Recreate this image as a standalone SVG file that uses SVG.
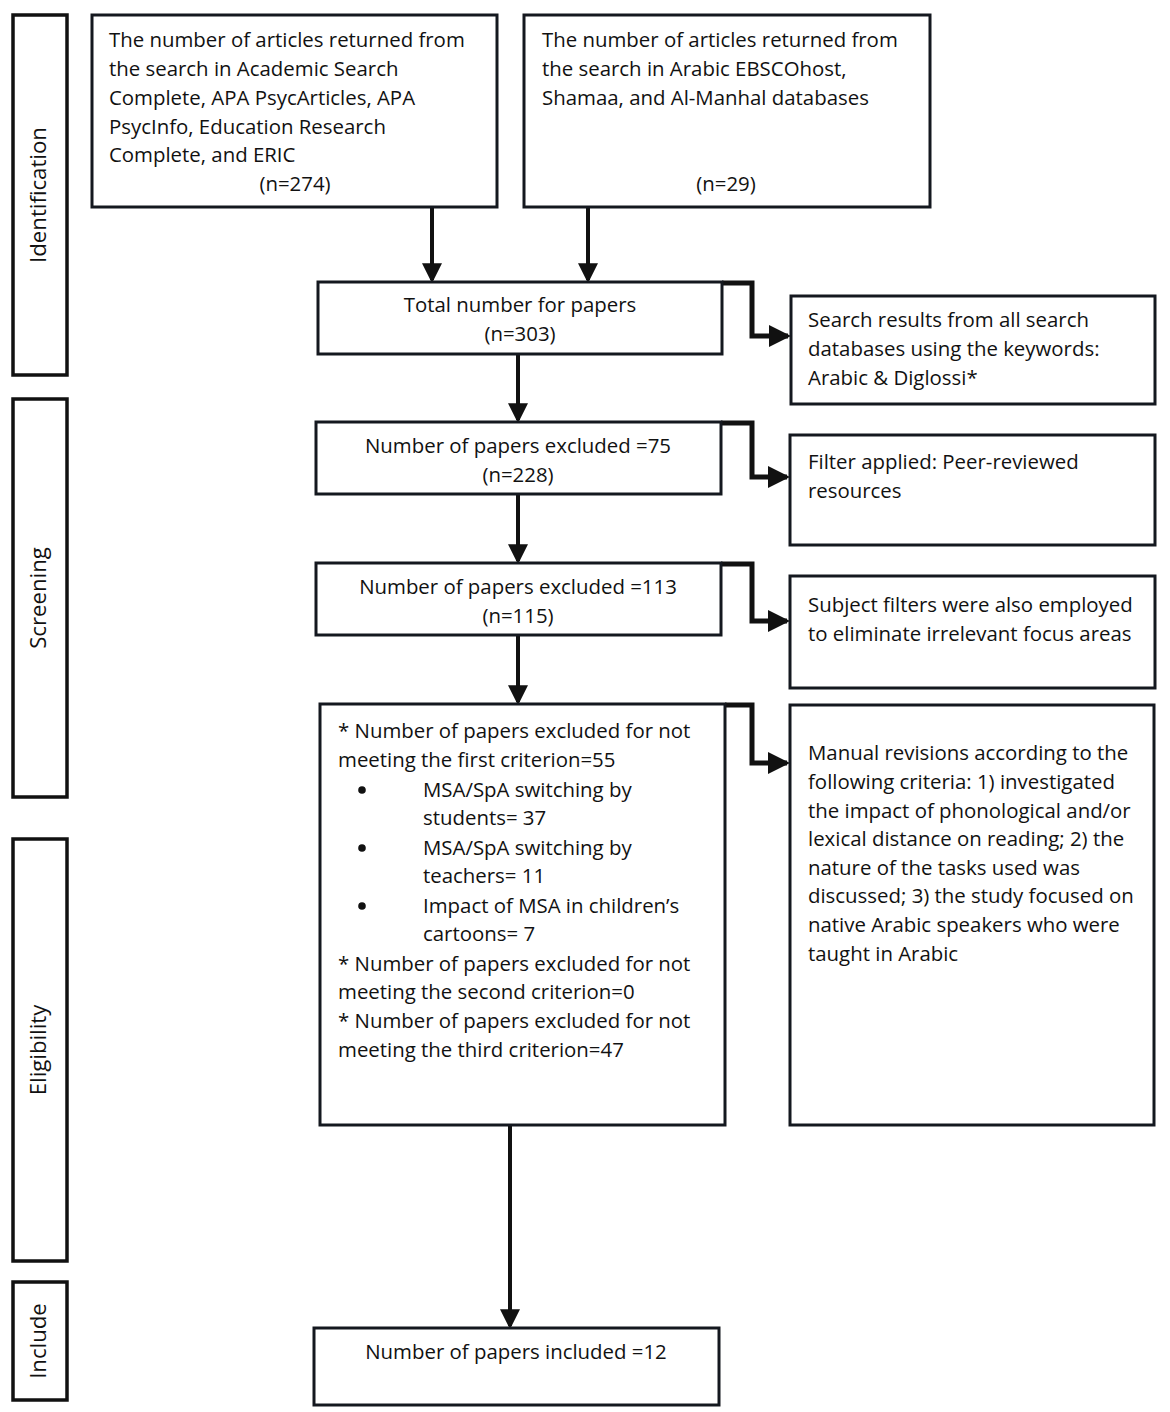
<svg xmlns="http://www.w3.org/2000/svg" width="1170" height="1412" viewBox="0 0 1170 1412">
<style>
.box{fill:#fff;stroke:#14181f;stroke-width:3}
.lbl{fill:#fff;stroke:#111;stroke-width:3.5}
.t{font-family:"Open Sans","Noto Sans",sans-serif;font-size:20.4px;fill:#111}
.s{font-size:22.2px}
.c{text-anchor:middle}
.con{fill:none;stroke:#111;stroke-width:4}
.side{fill:none;stroke:#111;stroke-width:5;stroke-linejoin:miter}
</style>
<defs>
<marker id="ah" markerWidth="5" markerHeight="5" refX="4.2" refY="2.5" orient="auto" markerUnits="strokeWidth">
<path d="M0,0 L5,2.5 L0,5 Z" fill="#111"/>
</marker>
<marker id="ahs" markerWidth="4.4" markerHeight="4.4" refX="3.8" refY="2.2" orient="auto" markerUnits="strokeWidth">
<path d="M0,0 L4.4,2.2 L0,4.4 Z" fill="#111"/>
</marker>
</defs>
<rect width="1170" height="1412" fill="#fff"/>

<g id="phase-identification">
<rect class="lbl" x="13" y="15" width="54" height="360"/>
<text class="t s c" transform="translate(46,195) rotate(-90)">Identification</text>
</g>
<g id="phase-screening">
<rect class="lbl" x="13" y="399" width="54" height="398"/>
<text class="t s c" transform="translate(46,598) rotate(-90)">Screening</text>
</g>
<g id="phase-eligibility">
<rect class="lbl" x="13" y="839" width="54" height="422"/>
<text class="t s c" transform="translate(46,1050) rotate(-90)">Eligibility</text>
</g>
<g id="phase-include">
<rect class="lbl" x="13" y="1282" width="54" height="118"/>
<text class="t s c" transform="translate(46,1341) rotate(-90)">Include</text>
</g>

<g id="connectors">
<line class="con" x1="432" y1="207" x2="432" y2="280" marker-end="url(#ah)"/>
<line class="con" x1="588" y1="207" x2="588" y2="280" marker-end="url(#ah)"/>
<line class="con" x1="518" y1="354" x2="518" y2="420" marker-end="url(#ah)"/>
<line class="con" x1="518" y1="494" x2="518" y2="561" marker-end="url(#ah)"/>
<line class="con" x1="518" y1="635" x2="518" y2="702" marker-end="url(#ah)"/>
<line class="con" x1="510" y1="1125" x2="510" y2="1326" marker-end="url(#ah)"/>
<polyline class="side" points="722,283 752,283 752,336 788,336" marker-end="url(#ahs)"/>
<polyline class="side" points="721,423 752,423 752,477 787,477" marker-end="url(#ahs)"/>
<polyline class="side" points="721,564 752,564 752,621 787,621" marker-end="url(#ahs)"/>
<polyline class="side" points="725,705 752,705 752,763 787,763" marker-end="url(#ahs)"/>
</g>

<g id="n-academic">
<rect class="box" x="92" y="15" width="405" height="192"/>
<text class="t" x="109" y="47">The number of articles returned from</text>
<text class="t" x="109" y="76">the search in Academic Search</text>
<text class="t" x="109" y="105">Complete, APA PsycArticles, APA</text>
<text class="t" x="109" y="134">PsycInfo, Education Research</text>
<text class="t" x="109" y="162">Complete, and ERIC</text>
<text class="t c" x="295" y="191">(n=274)</text>
</g>
<g id="n-arabic">
<rect class="box" x="524" y="15" width="406" height="192"/>
<text class="t" x="542" y="47">The number of articles returned from</text>
<text class="t" x="542" y="76">the search in Arabic EBSCOhost,</text>
<text class="t" x="542" y="105">Shamaa, and Al-Manhal databases</text>
<text class="t c" x="726" y="191">(n=29)</text>
</g>
<g id="n-total">
<rect class="box" x="318" y="282" width="404" height="72"/>
<text class="t c" x="520" y="312">Total number for papers</text>
<text class="t c" x="520" y="341">(n=303)</text>
</g>
<g id="n-search-note">
<rect class="box" x="791" y="296" width="364" height="108"/>
<text class="t" x="808" y="327">Search results from all search</text>
<text class="t" x="808" y="356">databases using the keywords:</text>
<text class="t" x="808" y="385">Arabic &amp; Diglossi*</text>
</g>
<g id="n-excl75">
<rect class="box" x="316" y="422" width="405" height="72"/>
<text class="t c" x="518" y="453">Number of papers excluded =75</text>
<text class="t c" x="518" y="482">(n=228)</text>
</g>
<g id="n-peer-note">
<rect class="box" x="790" y="435" width="365" height="110"/>
<text class="t" x="808" y="469">Filter applied: Peer-reviewed</text>
<text class="t" x="808" y="498">resources</text>
</g>
<g id="n-excl113">
<rect class="box" x="316" y="563" width="405" height="72"/>
<text class="t c" x="518" y="594">Number of papers excluded =113</text>
<text class="t c" x="518" y="623">(n=115)</text>
</g>
<g id="n-subject-note">
<rect class="box" x="790" y="576" width="365" height="112"/>
<text class="t" x="808" y="612">Subject filters were also employed</text>
<text class="t" x="808" y="641">to eliminate irrelevant focus areas</text>
</g>
<g id="n-criteria">
<rect class="box" x="320" y="704" width="405" height="421"/>
<text class="t" x="338" y="738">* Number of papers excluded for not</text>
<text class="t" x="338" y="767">meeting the first criterion=55</text>
<circle cx="362" cy="790" r="3.8" fill="#111"/>
<text class="t" x="423" y="797">MSA/SpA switching by</text>
<text class="t" x="423" y="825">students= 37</text>
<circle cx="362" cy="848" r="3.8" fill="#111"/>
<text class="t" x="423" y="855">MSA/SpA switching by</text>
<text class="t" x="423" y="883">teachers= 11</text>
<circle cx="362" cy="906" r="3.8" fill="#111"/>
<text class="t" x="423" y="913">Impact of MSA in children’s</text>
<text class="t" x="423" y="941">cartoons= 7</text>
<text class="t" x="338" y="971">* Number of papers excluded for not</text>
<text class="t" x="338" y="999">meeting the second criterion=0</text>
<text class="t" x="338" y="1028">* Number of papers excluded for not</text>
<text class="t" x="338" y="1057">meeting the third criterion=47</text>
</g>
<g id="n-manual-note">
<rect class="box" x="790" y="705" width="364" height="420"/>
<text class="t" x="808" y="760">Manual revisions according to the</text>
<text class="t" x="808" y="789">following criteria: 1) investigated</text>
<text class="t" x="808" y="818">the impact of phonological and/or</text>
<text class="t" x="808" y="846">lexical distance on reading; 2) the</text>
<text class="t" x="808" y="875">nature of the tasks used was</text>
<text class="t" x="808" y="903">discussed; 3) the study focused on</text>
<text class="t" x="808" y="932">native Arabic speakers who were</text>
<text class="t" x="808" y="961">taught in Arabic</text>
</g>
<g id="n-included">
<rect class="box" x="314" y="1328" width="405" height="77"/>
<text class="t c" x="516" y="1359">Number of papers included =12</text>
</g>
</svg>
